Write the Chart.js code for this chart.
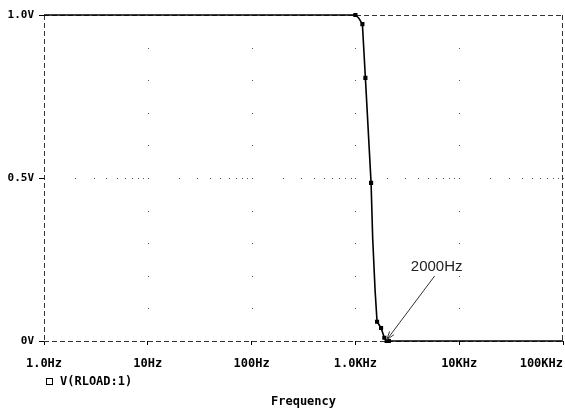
<!DOCTYPE html>
<html>
<head>
<meta charset="utf-8">
<script src="https://cdn.jsdelivr.net/npm/chart.js@4/dist/chart.umd.min.js"></script>
<style>
  html, body { margin: 0; padding: 0; background: #fff; }
  canvas { display: block; }
</style>
</head>
<body>
<canvas id="c" width="565" height="411"></canvas>
<script>
// ---- data ----
const seriesLabel = "V(RLOAD:1)";
const freqs = [1, 1000, 1080, 1168, 1248, 1416, 1467, 1547, 1617, 1767, 1900, 2000, 2100, 100000];
const volts = [1.0, 1.0, 0.99, 0.972, 0.807, 0.485, 0.316, 0.156, 0.059, 0.04, 0.01, 0.0, 0.0, 0.0];
const markerFlags = [0, 1, 0, 1, 1, 1, 0, 0, 1, 1, 1, 1, 1, 0];

const xTickValues = [1, 10, 100, 1000, 10000, 100000];
const xTickLabels = ["1.0Hz", "10Hz", "100Hz", "1.0KHz", "10KHz", "100KHz      "];
const yTickValues = [0, 0.5, 1.0];
const yTickLabels = ["0V", "0.5V", "1.0V"];
const xTitle = "Frequency";

const annotFreq = 2000;
const annotValue = 0;
const annotLabel = "2000Hz";

const MONO = "bold 12px 'DejaVu Sans Mono', monospace";

const framePlugin = {
  id: 'frame',
  beforeDatasetsDraw(chart) {
    const {ctx, chartArea: a, scales: {x, y}} = chart;
    ctx.save();
    // dotted grid
    ctx.fillStyle = '#555';
    for (let d = 10; d <= 10000; d *= 10) {
      const px = Math.round(x.getPixelForValue(d));
      for (let v = 1; v <= 9; v++) {
        const py = Math.round(y.getPixelForValue(v / 10));
        ctx.fillRect(px, py, 1, 1);
      }
    }
    const py5 = Math.round(y.getPixelForValue(0.5));
    for (let d = 1; d < 100000; d *= 10) {
      for (let m = 2; m <= 10; m++) {
        const px = Math.round(x.getPixelForValue(d * m));
        ctx.fillRect(px, py5, 1, 1);
      }
    }
    // dashed frame
    ctx.strokeStyle = '#333';
    ctx.lineWidth = 1;
    ctx.setLineDash([5, 3]);
    ctx.beginPath();
    ctx.moveTo(Math.round(a.left) + 0.5, a.top);
    ctx.lineTo(Math.round(a.left) + 0.5, a.bottom);
    ctx.moveTo(Math.round(a.right) - 0.5, a.top);
    ctx.lineTo(Math.round(a.right) - 0.5, a.bottom);
    ctx.moveTo(a.left, Math.round(a.top) + 0.5);
    ctx.lineTo(a.right, Math.round(a.top) + 0.5);
    ctx.moveTo(a.left, Math.round(a.bottom) + 0.5);
    ctx.lineTo(a.right, Math.round(a.bottom) + 0.5);
    ctx.stroke();
    ctx.restore();
  },
  afterDraw(chart) {
    const {ctx, scales: {x, y}} = chart;
    ctx.save();
    // annotation
    const px = x.getPixelForValue(annotFreq);
    const py = y.getPixelForValue(annotValue);
    const sx = px + 48, sy = py - 65;
    ctx.strokeStyle = '#333';
    ctx.lineWidth = 1;
    ctx.beginPath();
    ctx.moveTo(sx, sy);
    ctx.lineTo(px, py - 1);
    const ang = Math.atan2(py - sy, px - sx);
    const hl = 9;
    ctx.moveTo(px, py - 1);
    ctx.lineTo(px - hl * Math.cos(ang - 0.3), py - 1 - hl * Math.sin(ang - 0.3));
    ctx.moveTo(px, py - 1);
    ctx.lineTo(px - hl * Math.cos(ang + 0.3), py - 1 - hl * Math.sin(ang + 0.3));
    ctx.stroke();
    ctx.fillStyle = '#222';
    ctx.font = "15px 'Liberation Sans', Arial, sans-serif";
    ctx.textAlign = 'center';
    ctx.textBaseline = 'middle';
    ctx.fillText(annotLabel, sx + 2, sy - 9);
    // legend
    const ds = chart.data.datasets[0];
    ctx.strokeStyle = '#000';
    ctx.lineWidth = 1;
    ctx.strokeRect(46.5, 378.5, 6, 6);
    ctx.fillStyle = '#000';
    ctx.font = MONO;
    ctx.textAlign = 'left';
    ctx.textBaseline = 'middle';
    ctx.fillText(ds.label, 60, 382);
    ctx.restore();
  }
};

new Chart(document.getElementById('c'), {
  type: 'scatter',
  data: {
    datasets: [{
      label: seriesLabel,
      data: freqs.map((f, i) => ({x: f, y: volts[i]})),
      showLine: true,
      borderColor: '#000',
      backgroundColor: '#000',
      borderWidth: 1.6,
      tension: 0,
      pointStyle: 'rect',
      pointRadius: markerFlags.map(m => m ? 1.8 : 0),
      pointHoverRadius: 0,
      clip: false
    }]
  },
  options: {
    responsive: false,
    animation: false,
    events: [],
    layout: { padding: { top: 15, right: 2, left: 0, bottom: 0 } },
    plugins: { legend: { display: false }, tooltip: { enabled: false } },
    scales: {
      x: {
        type: 'logarithmic',
        min: 1, max: 100000,
        afterBuildTicks: s => { s.ticks = xTickValues.map(v => ({value: v})); },
        afterFit: s => { s.height = 70; s.paddingLeft = 0; s.paddingRight = 0; },
        ticks: {
          autoSkip: false, maxRotation: 0, minRotation: 0,
          padding: 12,
          color: '#000',
          font: { family: "'DejaVu Sans Mono', monospace", size: 12, weight: 'bold' },
          callback: (v, i) => xTickLabels[i]
        },
        grid: { display: true, drawOnChartArea: false, drawTicks: true, tickLength: 4, color: '#000' },
        border: { display: false },
        title: {
          display: true, text: xTitle, color: '#000',
          font: { family: "'DejaVu Sans Mono', monospace", size: 12, weight: 'bold' },
          padding: { top: 0, bottom: 2 }
        }
      },
      y: {
        min: 0, max: 1,
        afterBuildTicks: s => { s.ticks = yTickValues.map(v => ({value: v})); },
        afterFit: s => { s.width = 44; s.paddingTop = 0; s.paddingBottom = 0; },
        ticks: {
          padding: 5,
          color: '#000',
          font: { family: "'DejaVu Sans Mono', monospace", size: 11, weight: 'bold' },
          callback: (v, i) => yTickLabels[i]
        },
        grid: { display: true, drawOnChartArea: false, drawTicks: true, tickLength: 5, color: '#000' },
        border: { display: false }
      }
    }
  },
  plugins: [framePlugin]
});
</script>
</body>
</html>
